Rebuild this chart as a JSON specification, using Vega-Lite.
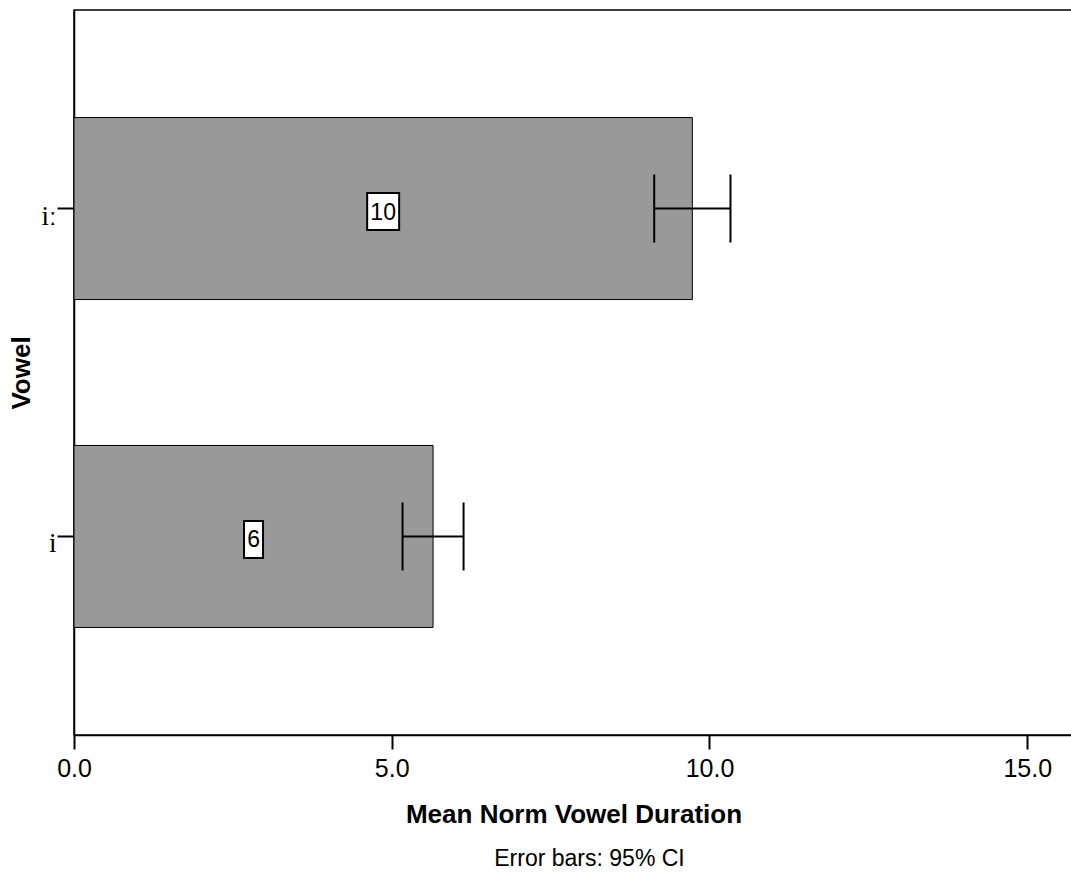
{
  "$schema": "https://vega.github.io/schema/vega-lite/v6.json",
  "autosize": {"type": "none"},
  "padding": {"left": 74, "top": 10, "right": 0, "bottom": 139},
  "width": 999,
  "height": 725,
  "background": "white",
  "config": {
    "view": {"stroke": "black", "strokeWidth": 1.5},
    "font": "Liberation Sans"
  },
  "title": {
    "text": "Error bars: 95% CI",
    "orient": "bottom",
    "anchor": "middle",
    "frame": "group",
    "font": "Liberation Sans",
    "fontSize": 23,
    "fontWeight": "normal",
    "color": "black",
    "offset": 21,
    "dx": 16
  },
  "data": {
    "values": [
      {"vowel": "iː", "mean": 9.73, "lo": 9.13, "hi": 10.33},
      {"vowel": "i", "mean": 5.65, "lo": 5.17, "hi": 6.13}
    ]
  },
  "encoding": {
    "y": {
      "field": "vowel",
      "type": "nominal",
      "sort": ["iː", "i"],
      "scale": {"paddingInner": 0.445, "paddingOuter": 0.328},
      "axis": {
        "title": "Vowel",
        "titleFont": "Liberation Sans",
        "titleFontSize": 26,
        "titleFontWeight": "bold",
        "titleColor": "black",
        "titlePadding": 6,
        "labelFont": "Liberation Serif",
        "labelFontSize": 27,
        "labelColor": "black",
        "labelPadding": 1,
        "labelBaseline": "top",
        "labelOffset": -5,
        "tickSize": 17,
        "tickWidth": 2,
        "tickColor": "black",
        "domainColor": "black",
        "domainWidth": 1.5,
        "grid": false
      }
    }
  },
  "layer": [
    {
      "mark": {"type": "bar", "fill": "#999999", "stroke": "black", "strokeWidth": 1},
      "encoding": {
        "x": {
          "field": "mean",
          "type": "quantitative",
          "scale": {"domain": [0, 15.72], "nice": false, "zero": true},
          "axis": {
            "title": "Mean Norm Vowel Duration",
            "titleFont": "Liberation Sans",
            "titleFontSize": 26,
            "titleFontWeight": "bold",
            "titleColor": "black",
            "titlePadding": 20,
            "values": [0, 5, 10, 15],
            "format": ".1f",
            "labelFont": "Liberation Sans",
            "labelFontSize": 25,
            "labelColor": "black",
            "labelPadding": 7,
            "labelFlush": false,
            "labelOverlap": false,
            "tickSize": 14,
            "tickWidth": 2,
            "tickColor": "black",
            "domainColor": "black",
            "domainWidth": 1.5,
            "grid": false
          }
        }
      }
    },
    {
      "mark": {"type": "rule", "color": "black", "strokeWidth": 2},
      "encoding": {
        "x": {"field": "lo", "type": "quantitative"},
        "x2": {"field": "hi"}
      }
    },
    {
      "mark": {"type": "tick", "color": "black", "thickness": 2, "size": 68, "opacity": 1},
      "encoding": {
        "x": {"field": "lo", "type": "quantitative"}
      }
    },
    {
      "mark": {"type": "tick", "color": "black", "thickness": 2, "size": 68, "opacity": 1},
      "encoding": {
        "x": {"field": "hi", "type": "quantitative"}
      }
    },
    {
      "transform": [{"calculate": "datum.mean / 2", "as": "mid"}],
      "mark": {"type": "point", "filled": true, "fill": "white", "stroke": "black", "strokeWidth": 2, "size": 1600, "opacity": 1, "yOffset": 3},
      "encoding": {
        "x": {"field": "mid", "type": "quantitative"},
        "shape": {
          "field": "vowel",
          "type": "nominal",
          "scale": {
            "domain": ["iː", "i"],
            "range": [
              "M-0.8,-0.925L0.8,-0.925L0.8,0.925L-0.8,0.925Z",
              "M-0.475,-0.925L0.475,-0.925L0.475,0.925L-0.475,0.925Z"
            ]
          },
          "legend": null
        }
      }
    },
    {
      "transform": [{"calculate": "datum.mean / 2", "as": "mid"}],
      "mark": {"type": "text", "font": "Liberation Sans", "fontSize": 23, "color": "black", "align": "center", "baseline": "middle", "yOffset": 4},
      "encoding": {
        "x": {"field": "mid", "type": "quantitative"},
        "text": {"field": "mean", "type": "quantitative", "format": ".0f"}
      }
    }
  ]
}
